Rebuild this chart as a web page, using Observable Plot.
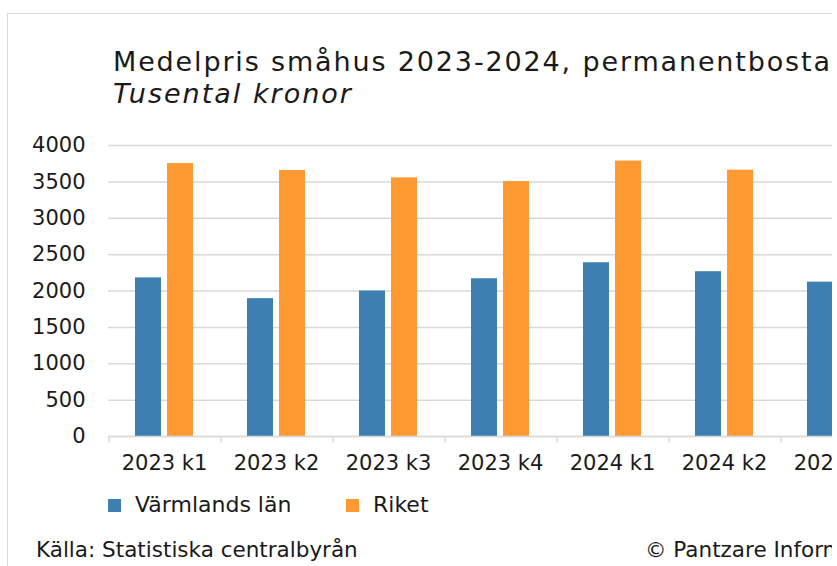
<!DOCTYPE html>
<html>
<head>
<meta charset="utf-8">
<script src="https://cdn.jsdelivr.net/npm/d3@7"></script>
<script src="https://cdn.jsdelivr.net/npm/@observablehq/plot@0.6"></script>
<style>
  html, body { margin: 0; padding: 0; background: #fff; overflow: hidden; }
  #wrap { position: relative; width: 832px; height: 566px; overflow: hidden; font-family: "DejaVu Sans", Verdana, sans-serif; color: #1a1a1a; }
  #border { position: absolute; left: 7px; top: 13px; width: 2000px; height: 2000px; border: 1.5px solid #d9d9d9; }
  .t { position: absolute; white-space: nowrap; line-height: 1; }
  #title { left: 113px; top: 48px; font-size: 27px; letter-spacing: 1.85px; }
  #subtitle { left: 113px; top: 80px; font-size: 27px; font-style: italic; letter-spacing: 2px; }
  #chart { position: absolute; left: 0; top: 130px; width: 1000px; }
  #chart svg { max-width: none !important; }
  .sw { position: absolute; width: 13px; height: 13px; }
  .lg { font-size: 22px; }
  .cap { font-size: 21.5px; }
</style>
</head>
<body>
<div id="wrap">
  <div id="border"></div>
  <div class="t" id="title">Medelpris småhus 2023-2024, permanentbostad</div>
  <div class="t" id="subtitle">Tusental kronor</div>
  <div id="chart"></div>
  <div id="legend"></div>
  <div class="t cap" style="left:36px; top:539px;">Källa: Statistiska centralbyrån</div>
  <div class="t cap" style="left:645px; top:539px;">© Pantzare Information</div>
</div>
<script>
const quarters = ["2023 k1", "2023 k2", "2023 k3", "2023 k4", "2024 k1", "2024 k2", "2024 k3"];
const seriesNames = ["Värmlands län", "Riket"];
const varmland = [2180, 1895, 2000, 2168, 2388, 2265, 2122];
const riket = [3752, 3656, 3556, 3505, 3786, 3661, 3600];
const yTicks = [0, 500, 1000, 1500, 2000, 2500, 3000, 3500, 4000];
const colors = ["#3d7fb1", "#ff9a33"];

const rows = quarters.flatMap((q, i) => [
  {q, s: seriesNames[0], v: varmland[i]},
  {q, s: seriesNames[1], v: riket[i]}
]);

const W = 1000, H = 350, mT = 15, mB = 44, mL = 108, mR = 108;
const plotH = H - mT - mB;
const facetW = (W - mL - mR) / quarters.length;

const chart = Plot.plot({
  width: W, height: H,
  marginLeft: mL, marginRight: mR, marginTop: mT, marginBottom: mB,
  style: {fontFamily: "'DejaVu Sans', Verdana, sans-serif", fontSize: "21px", color: "#1a1a1a", background: "transparent", overflow: "visible", maxWidth: "none"},
  fx: {domain: quarters, padding: 0, label: null},
  x: {domain: seriesNames, paddingInner: 0.1875, paddingOuter: 0.84375, axis: null},
  y: {domain: [0, 4000], label: null},
  color: {domain: seriesNames, range: colors},
  marks: [
    Plot.gridY(yTicks, {stroke: "#d9d9d9", strokeOpacity: 1, strokeWidth: 1.5}),
    Plot.axisY(yTicks, {tickSize: 0, tickPadding: 23, fontSize: 21, label: null, tickFormat: d => String(d)}),
    Plot.axisFx({anchor: "bottom", tickSize: 0, tickPadding: 19, fontSize: 21, label: null}),
    Plot.barY(rows, {fx: "q", x: "s", y: "v", fill: "s"}),
    Plot.ruleY([0], {stroke: "#d9d9d9", strokeWidth: 1.5}),
    Plot.frame({fill: "#d9d9d9", stroke: null, insetTop: plotH, insetBottom: -6, insetRight: facetW - 1.5})
  ]
});
chart.style.maxWidth = "none";
document.getElementById("chart").appendChild(chart);

const legend = document.getElementById("legend");
const lx = [[108, 135], [346, 373]];
seriesNames.forEach((name, i) => {
  const sw = document.createElement("div");
  sw.className = "sw";
  sw.style.left = lx[i][0] + "px";
  sw.style.top = "499px";
  sw.style.background = colors[i];
  legend.appendChild(sw);
  const tx = document.createElement("div");
  tx.className = "t lg";
  tx.style.left = lx[i][1] + "px";
  tx.style.top = "494px";
  tx.textContent = name;
  legend.appendChild(tx);
});
</script>
</body>
</html>
